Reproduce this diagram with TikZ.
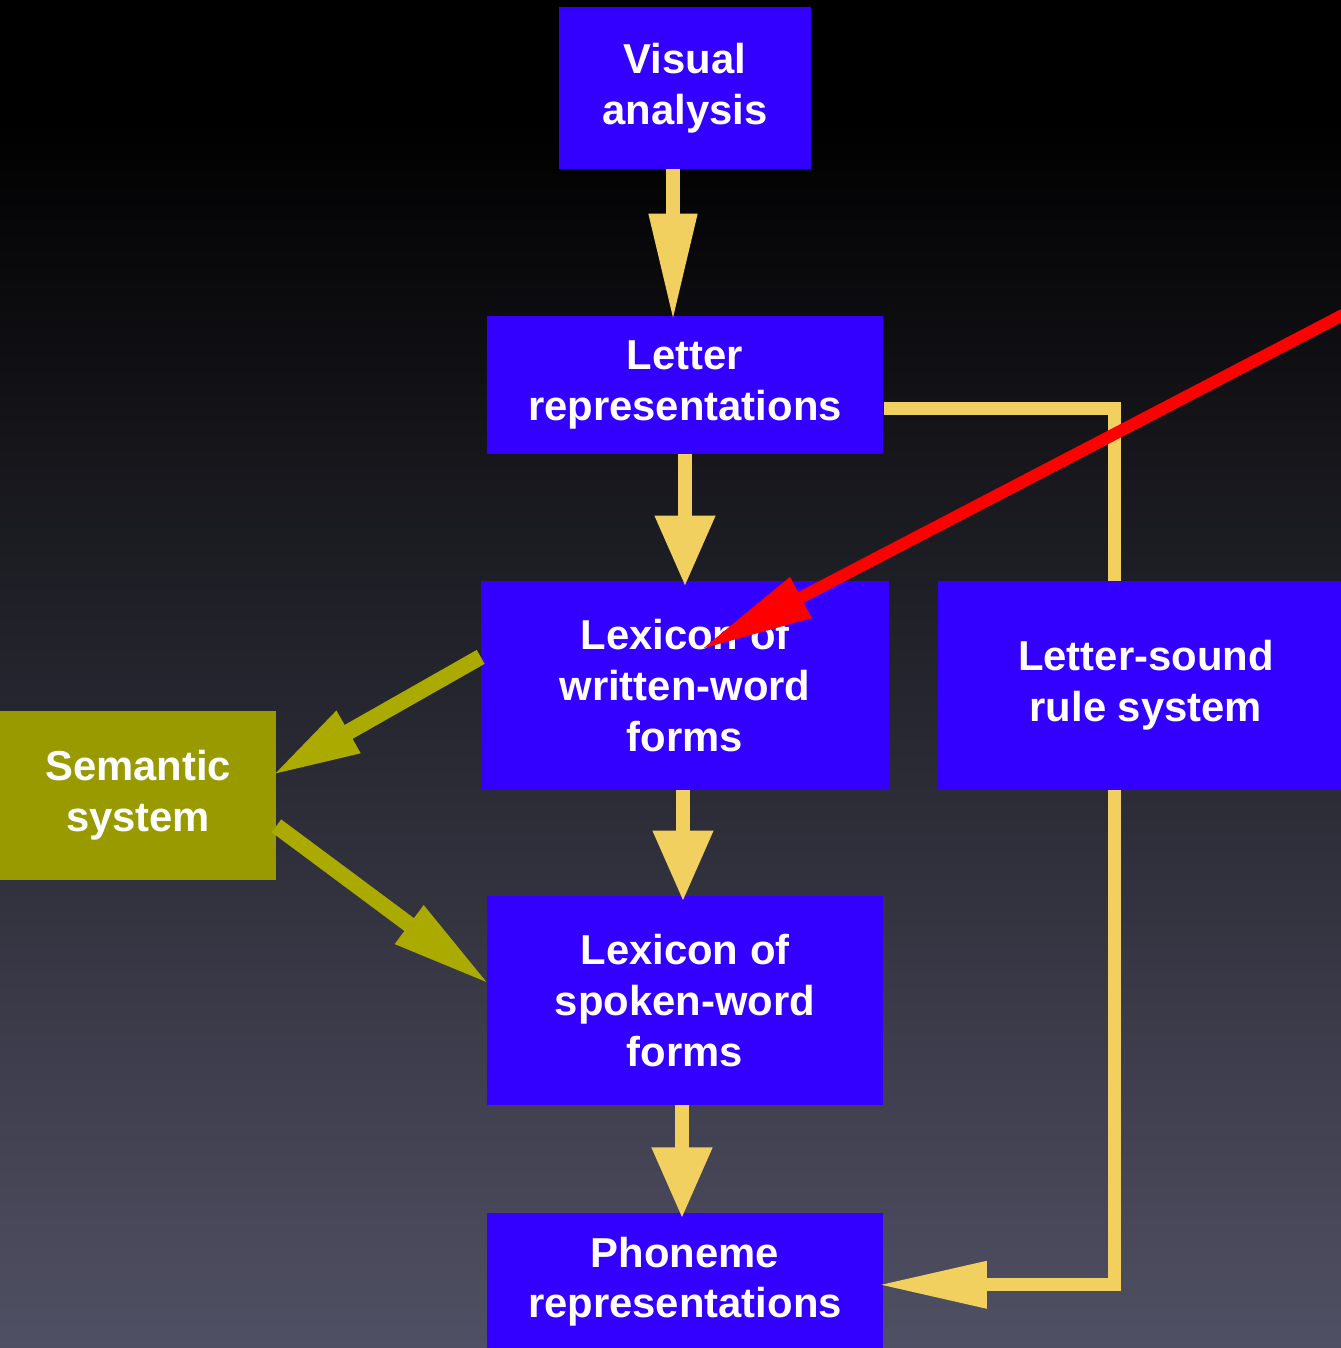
\documentclass[tikz,border=0pt]{standalone}
\usepackage{fontspec}
\setmainfont{Liberation Sans}
\usetikzlibrary{arrows.meta, positioning}

\definecolor{boxblue}{RGB}{51,0,255}
\definecolor{semolive}{RGB}{153,153,0}
\definecolor{arrowolive}{RGB}{170,170,0}
\definecolor{arrowyellow}{RGB}{241,208,96}
\definecolor{bgmid}{RGB}{26,26,48}
\definecolor{bgbot}{RGB}{80,80,100}

\begin{document}
\begin{tikzpicture}[
      x=0.02cm, y=-0.02cm, on grid,
      every node/.style={font=\fontsize{23.8}{28.9}\selectfont\bfseries, text=white, align=center},
      module/.style={fill=boxblue, minimum width=7.94cm, minimum height=4.18cm, inner sep=0pt},
      yline/.style={draw=arrowyellow, line width=0.26cm},
      yarrow/.style={draw=arrowyellow, line width=0.28cm, shorten >=-0.12cm,
          -{Triangle[length=1.42cm,width=1.14cm]}},
      oarrow/.style={draw=arrowolive, line width=0.32cm, shorten >=-0.12cm},
      redarrow/.style={draw=red, line width=0.24cm, shorten >=-0.12cm,
          -{Triangle[length=2.26cm,width=0.86cm]}}
      ]
      % background
      \fill[black] (0,0) rectangle (1341,1348);
      \shade[top color=black, middle color=bgmid, bottom color=bgbot] (0,120) rectangle (1341,1348);
      \useasboundingbox (0,0) rectangle (1341,1348);

      \node[module, minimum width=5.04cm, minimum height=3.24cm] (va) at (685,88) {Visual\\analysis};
      \node[module, minimum height=2.76cm] (lr)  [below=5.94cm of va]  {Letter\\representations};
      \node[module, minimum width=8.16cm]  (lw)  [below=6.01cm of lr]  {Lexicon of\\written-word\\forms};
      \node[module, minimum width=8.32cm]  (ls)  [right=9.22cm of lw]  {Letter-sound\\rule system};
      \node[module, fill=semolive, minimum width=5.52cm, minimum height=3.38cm]
                                           (sem) [below left=2.2cm and 10.94cm of lw] {Semantic\\system};
      \node[module]                        (lsp) [below=6.30cm of lw]  {Lexicon of\\spoken-word\\forms};
      \node[module, minimum height=2.76cm] (ph)  [below=5.63cm of lsp] {Phoneme\\representations};

      % main route
      \draw[yarrow, -{Triangle[length=2.16cm,width=0.9cm]}]
            ([xshift=-0.24cm]va.south) coordinate (a1) -- (a1 |- lr.north);
      \draw[yarrow] (lr.south) coordinate (a2) -- (a2 |- lw.north);
      \draw[yarrow] ([xshift=-0.04cm]lw.south) coordinate (a3) -- (a3 |- lsp.north);
      \draw[yarrow] ([xshift=-0.06cm]lsp.south) coordinate (a4) -- (a4 |- ph.north);

      % letter-sound route
      \draw[yline] ([yshift=-0.48cm]lr.east) -| ([xshift=-0.62cm]ls.north);
      \draw[yline, shorten >=-0.12cm, -{Triangle[length=2.18cm,width=0.88cm]}]
            ([xshift=-0.62cm]ls.south) |- ([yshift=-0.06cm]ph.east);

      % semantic route
      \draw[oarrow, -{Triangle[length=1.78cm,width=0.88cm]}]
            ([yshift=0.57cm]lw.west) -- ([yshift=0.45cm]sem.east);
      \draw[oarrow, -{Triangle[length=2.04cm,width=0.87cm]}]
            ([yshift=-0.61cm]sem.east) -- ([yshift=0.37cm]lsp.west);

      % pointer
      \coordinate (redin) at (1360,306);
      \draw[redarrow] (redin) -- ([xshift=0.42cm,yshift=0.77cm]lw.center);
    \end{tikzpicture}
\end{document}
